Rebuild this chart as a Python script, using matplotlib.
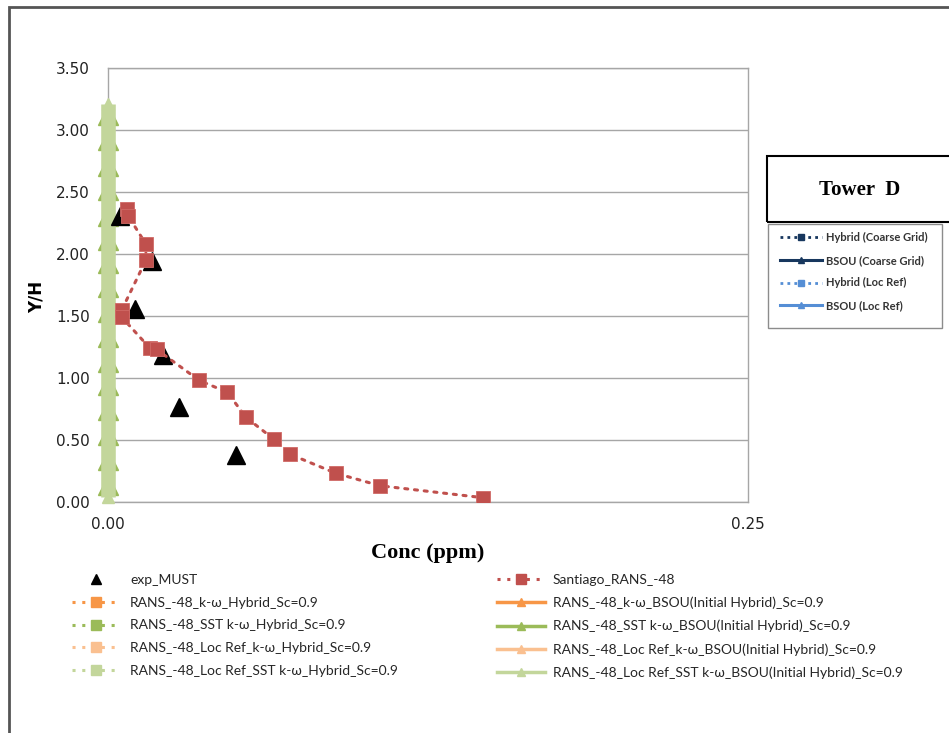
import matplotlib
matplotlib.use("Agg")
import matplotlib.pyplot as plt
from matplotlib.lines import Line2D
from matplotlib.patches import Rectangle

plt.rcParams["font.family"] = ["DejaVu Sans"]

W, H = 949, 733

# Tower D measurements (exp_MUST)
exp_conc = [0.0047, 0.0171, 0.0105, 0.0216, 0.0279, 0.0500]
exp_yh = [2.31, 1.94, 1.56, 1.185, 0.77, 0.38]

# Santiago RANS -48 profile
sant_conc = [0.0075, 0.0078, 0.0148, 0.0148, 0.0054, 0.0054, 0.0164, 0.0190,
             0.0357, 0.0466, 0.0539, 0.0648, 0.0711, 0.0891, 0.1063, 0.1464]
sant_yh = [2.36, 2.31, 2.08, 1.95, 1.55, 1.49, 1.24, 1.23,
           0.98, 0.885, 0.683, 0.506, 0.385, 0.231, 0.131, 0.035]

# RANS -48 profiles (concentrations round to zero on this scale)
coarse_yh = [0.14, 0.34, 0.54, 0.74, 0.94, 1.13, 1.33, 1.53,
             1.73, 1.93, 2.11, 2.31, 2.52, 2.71, 2.92, 3.12]
coarse_conc = [0.0, 0.0, 0.0, 0.0, 0.0, 0.0, 0.0, 0.0,
               0.0, 0.0, 0.0, 0.0, 0.0, 0.0, 0.0, 0.0]
locref_yh = [0.04, 0.14, 0.34, 0.54, 0.74, 0.94, 1.13, 1.33, 1.53,
             1.73, 1.93, 2.11, 2.31, 2.52, 2.71, 2.92, 3.12, 3.21]
locref_conc = [0.0, 0.0, 0.0, 0.0, 0.0, 0.0, 0.0, 0.0, 0.0,
               0.0, 0.0, 0.0, 0.0, 0.0, 0.0, 0.0, 0.0, 0.0]

hybrid_labels = ["RANS_-48_k-\u03c9_Hybrid_Sc=0.9",
                 "RANS_-48_SST k-\u03c9_Hybrid_Sc=0.9",
                 "RANS_-48_Loc Ref_k-\u03c9_Hybrid_Sc=0.9",
                 "RANS_-48_Loc Ref_SST k-\u03c9_Hybrid_Sc=0.9"]
bsou_labels = ["RANS_-48_k-\u03c9_BSOU(Initial Hybrid)_Sc=0.9",
               "RANS_-48_SST k-\u03c9_BSOU(Initial Hybrid)_Sc=0.9",
               "RANS_-48_Loc Ref_k-\u03c9_BSOU(Initial Hybrid)_Sc=0.9",
               "RANS_-48_Loc Ref_SST k-\u03c9_BSOU(Initial Hybrid)_Sc=0.9"]
tower_labels = ["Hybrid (Coarse Grid)", "BSOU (Coarse Grid)",
                "Hybrid (Loc Ref)", "BSOU (Loc Ref)"]

y_ticks = [0.0, 0.5, 1.0, 1.5, 2.0, 2.5, 3.0, 3.5]
x_ticks = [0.0, 0.25]

ORANGE, GREEN, LORANGE, LGREEN = "#F79646", "#9BBB59", "#FAC090", "#C3D69B"
RED = "#C0504D"
NAVY, LBLUE = "#17375E", "#558ED5"
DOT = (0, (1, 2.2))


def fx(px):
    return px / W


def fy(py):
    return 1 - py / H


fig = plt.figure(figsize=(W / 100, H / 100), dpi=100)

# chart frame (runs off the right and bottom edges)
fig.add_artist(Rectangle((fx(8.5), fy(760)), fx(1000), 760 / H - 6.5 / H,
                         transform=fig.transFigure, fill=False,
                         edgecolor="#555555", linewidth=2.0))

ax = fig.add_axes([fx(108), fy(502), fx(640), 434 / H])
ax.set_xlim(0, 0.25)
ax.set_ylim(0, 3.5)
for s in ax.spines.values():
    s.set_color("#A6A6A6")
    s.set_linewidth(1.0)
ax.set_yticks(y_ticks)
ax.set_yticklabels([f"{v:.2f}" for v in y_ticks])
ax.set_xticks(x_ticks)
ax.set_xticklabels([f"{v:.2f}" for v in x_ticks])
ax.tick_params(length=0, labelsize=11, colors="#222222")
ax.tick_params(axis="y", pad=13)
ax.tick_params(axis="x", pad=11)
ax.grid(axis="y", color="#A6A6A6", linewidth=1.0)
ax.set_axisbelow(True)

# simulated profiles hugging the Y/H axis
hyb_colors = [ORANGE, GREEN, LORANGE, LGREEN]
for c in hyb_colors:
    ax.plot(coarse_conc, coarse_yh, linestyle=DOT, color=c, linewidth=2,
            marker="s", markersize=6, clip_on=False, zorder=3)
ax.plot(coarse_conc, coarse_yh, color=ORANGE, linewidth=2.5,
        marker="^", markersize=8, clip_on=False, zorder=3)
ax.plot(coarse_conc, coarse_yh, color=GREEN, linewidth=2.5,
        marker="^", markersize=14, clip_on=False, zorder=3)
ax.plot(coarse_conc, coarse_yh, color=LORANGE, linewidth=2.5,
        marker="^", markersize=8, clip_on=False, zorder=3)
ax.plot(locref_conc, locref_yh, color=LGREEN, linewidth=10.5,
        solid_capstyle="butt", marker="^", markersize=8,
        clip_on=False, zorder=3)

ax.plot(exp_conc, exp_yh, linestyle="none", marker="^", markersize=13,
        color="black", zorder=4)
ax.plot(sant_conc, sant_yh, linestyle=DOT, color=RED, linewidth=2.2,
        dash_capstyle="round", marker="s", markersize=10,
        markeredgecolor="#D06A66", markeredgewidth=0.6, zorder=5)

ax.set_ylabel("Y/H", fontsize=12, fontweight="bold")
ax.yaxis.set_label_coords((46 - 108) / 640, (502 - 297) / 434)
ax.set_xlabel("Conc (ppm)", fontsize=16, fontweight="bold",
              family="Liberation Serif")
ax.xaxis.set_label_coords(0.5, -(543 - 502) / 434)

# bottom legend, two columns drawn as two legends
def hyb_handle(c, label):
    return Line2D([], [], linestyle=DOT, color=c, linewidth=2.2, marker="s",
                  markersize=7, label=label)


def bsou_handle(c, label):
    return Line2D([], [], color=c, linewidth=2.5, marker="^",
                  markersize=6, label=label)


left_handles = [Line2D([], [], linestyle="none", marker="^", color="black",
                       markersize=7, label="exp_MUST")]
left_handles += [hyb_handle(c, l) for c, l in zip(hyb_colors, hybrid_labels)]
right_handles = [Line2D([], [], linestyle=DOT, color=RED, linewidth=2.2,
                        marker="s", markersize=7, label="Santiago_RANS_-48")]
right_handles += [bsou_handle(c, l) for c, l in zip(hyb_colors, bsou_labels)]

leg_kw = dict(loc="upper left", frameon=False, borderpad=0, borderaxespad=0,
              prop={"family": "Lato", "size": 10}, labelcolor="#262626",
              handlelength=3.45, labelspacing=0.77)
fig.legend(handles=left_handles, bbox_to_anchor=(fx(72), fy(574)),
           handletextpad=0.72, **leg_kw)
fig.legend(handles=right_handles, bbox_to_anchor=(fx(497), fy(574)),
           handletextpad=0.58, **leg_kw)

# Tower D title box
fig.add_artist(Rectangle((fx(767), fy(222)), fx(200), 66 / H,
                         transform=fig.transFigure, fill=False,
                         edgecolor="black", linewidth=1.5))
fig.text(fx(860), fy(190), "Tower  D", ha="center", va="center",
         fontsize=15, fontweight="bold", family="Liberation Serif")

# grid legend box
fig.add_artist(Rectangle((fx(768), fy(328)), fx(174), 104 / H,
                         transform=fig.transFigure, fill=False,
                         edgecolor="#8C8C8C", linewidth=1.0))
tower_handles = [
    Line2D([], [], linestyle=(0, (1, 1.5)), color=NAVY, linewidth=2,
           marker="s", markersize=5, label=tower_labels[0]),
    Line2D([], [], color=NAVY, linewidth=2.2, marker="^", markersize=4,
           label=tower_labels[1]),
    Line2D([], [], linestyle=(0, (1, 1.5)), color=LBLUE, linewidth=2,
           marker="s", markersize=5, label=tower_labels[2]),
    Line2D([], [], color=LBLUE, linewidth=2.2, marker="^", markersize=4,
           label=tower_labels[3]),
]
fig.legend(handles=tower_handles, loc="upper left",
           bbox_to_anchor=(fx(780), fy(232)), frameon=False, borderpad=0,
           borderaxespad=0, prop={"family": "Lato", "size": 8,
                                  "weight": "bold"},
           labelcolor="#333333", handlelength=3.8, handletextpad=0.35,
           labelspacing=1.05)

fig.savefig("out.png", dpi=100)
